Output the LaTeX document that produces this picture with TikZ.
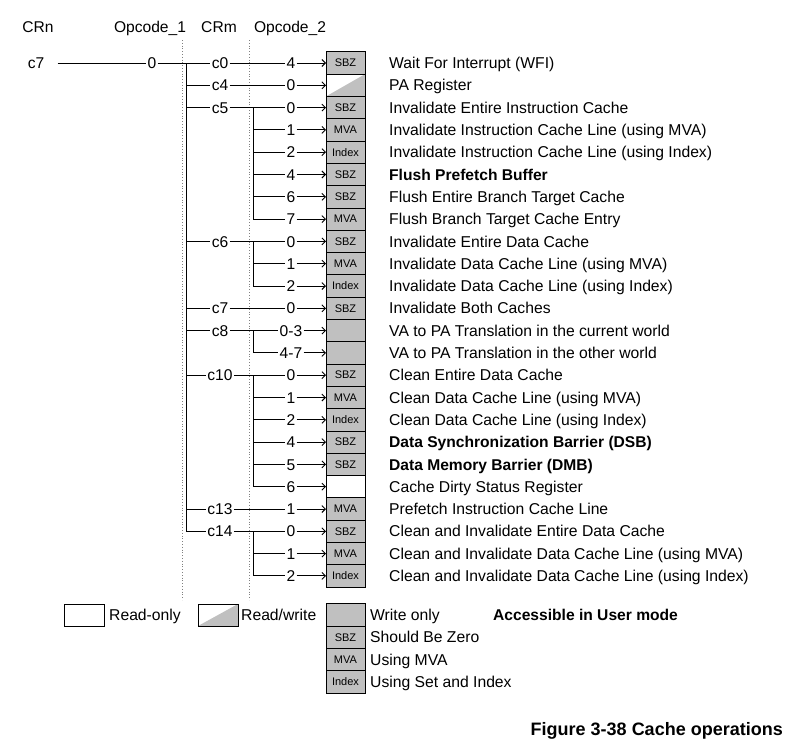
\documentclass[tikz,border=0pt]{standalone}
\usepackage{fontspec}
\setmainfont{Liberation Sans}
\usetikzlibrary{arrows.meta}
\definecolor{boxgray}{RGB}{192,192,192}
\tikzset{
 lbl/.style={font=\fontsize{15.6}{16}\selectfont, inner sep=1.3pt, outer sep=0pt, text height=11.2pt, text depth=0pt},
 desc/.style={font=\fontsize{15.7}{16}\selectfont, anchor=west, inner sep=0pt, text height=11.2pt, text depth=0pt},
 descb/.style={desc, font=\fontsize{15.6}{16}\selectfont\bfseries},
 cell/.style={draw=black, line width=0.8pt, minimum width=39pt, minimum height=22.3pt, inner sep=0pt, outer sep=0pt, font=\fontsize{11}{12}\selectfont},
 wo/.style={cell, fill=boxgray},
 ro/.style={cell, fill=white},
 rw/.style={cell, fill=white, path picture={\fill[boxgray] (path picture bounding box.south west) -- (path picture bounding box.north east) |- cycle;}},
 conn/.style={line width=0.9pt},
 arr/.style={conn, -{Straight Barb[length=3.5pt,width=7pt]}},
 guide/.style={gray, dotted, line width=0.8pt},
}
\begin{document}
\begin{tikzpicture}[x=1pt,y=-1pt]
\useasboundingbox (0,0) rectangle (798,755);
% guides
\draw[guide] (182,40) -- (182,600);
\draw[guide] (249,40) -- (249,600);
% headers
\node[lbl] (hcrn) at (38,27) {CRn};
\node[lbl] (hop1) at (150,27) {Opcode\_1};
\node[lbl] (hcrm) at (219,27) {CRm};
\node[lbl] (hop2) at (290,27) {Opcode\_2};
% CRn / opcode1
\node[lbl] (crn) at (36,63) {c7};
\node[lbl] (op1) at (152,63) {0};
\coordinate (T1) at (186,0);
\coordinate (T2) at (253,0);
% rows
\foreach \i/\op/\typ/\bx/\txt/\isb in {
 0/4/wo/SBZ/Wait For Interrupt (WFI)/0,
 1/0/rw//PA Register/0,
 2/0/wo/SBZ/Invalidate Entire Instruction Cache/0,
 3/1/wo/MVA/Invalidate Instruction Cache Line (using MVA)/0,
 4/2/wo/Index/Invalidate Instruction Cache Line (using Index)/0,
 5/4/wo/SBZ/Flush Prefetch Buffer/1,
 6/6/wo/SBZ/Flush Entire Branch Target Cache/0,
 7/7/wo/MVA/Flush Branch Target Cache Entry/0,
 8/0/wo/SBZ/Invalidate Entire Data Cache/0,
 9/1/wo/MVA/Invalidate Data Cache Line (using MVA)/0,
 10/2/wo/Index/Invalidate Data Cache Line (using Index)/0,
 11/0/wo/SBZ/Invalidate Both Caches/0,
 12/0-3/wo//VA to PA Translation in the current world/0,
 13/4-7/wo//VA to PA Translation in the other world/0,
 14/0/wo/SBZ/Clean Entire Data Cache/0,
 15/1/wo/MVA/Clean Data Cache Line (using MVA)/0,
 16/2/wo/Index/Clean Data Cache Line (using Index)/0,
 17/4/wo/SBZ/Data Synchronization Barrier (DSB)/1,
 18/5/wo/SBZ/Data Memory Barrier (DMB)/1,
 19/6/ro//Cache Dirty Status Register/0,
 20/1/wo/MVA/Prefetch Instruction Cache Line/0,
 21/0/wo/SBZ/Clean and Invalidate Entire Data Cache/0,
 22/1/wo/MVA/Clean and Invalidate Data Cache Line (using MVA)/0,
 23/2/wo/Index/Clean and Invalidate Data Cache Line (using Index)/0}{
  \pgfmathsetmacro{\yy}{63+22.3*\i}
  \node[lbl] (o\i) at (291,\yy) {\op};
  \node[\typ] (b\i) at (345.5,\yy) {\bx};
  \ifnum\isb=1
    \node[descb] (d\i) at (389,\yy) {\txt};
  \else
    \node[desc] (d\i) at (389,\yy) {\txt};
  \fi
  \draw[arr] (o\i) -- (b\i);
}
% CRm labels
\foreach \i/\c in {0/c0,1/c4,2/c5,8/c6,11/c7,12/c8,14/c10,20/c13,21/c14}{
  \pgfmathsetmacro{\yy}{63+22.3*\i}
  \node[lbl] (m\i) at (220,\yy) {\c};
}
% CRn to opcode1 to CRm
\draw[conn] ([xshift=12pt]crn.east) -- (op1);
\draw[conn] (op1) -- (m0);
\draw[conn] (T1 |- m0) |- (m21);
\foreach \i in {1,2,8,11,12,14,20}{\draw[conn] (T1 |- m\i) -- (m\i);}
% single rows
\foreach \i in {0,1,11,20}{\draw[conn] (m\i) -- (o\i);}
% groups
\draw[conn] (m2) -- (o2);
\draw[conn] (T2 |- o2) |- (o7);
\foreach \i in {3,4,5,6}{\draw[conn] (T2 |- o\i) -- (o\i);}
\draw[conn] (m8) -- (o8);
\draw[conn] (T2 |- o8) |- (o10);
\draw[conn] (T2 |- o9) -- (o9);
\draw[conn] (m12) -- (o12);
\draw[conn] (T2 |- o12) |- (o13);
\draw[conn] (m14) -- (o14);
\draw[conn] (T2 |- o14) |- (o19);
\foreach \i in {15,16,17,18}{\draw[conn] (T2 |- o\i) -- (o\i);}
\draw[conn] (m21) -- (o21);
\draw[conn] (T2 |- o21) |- (o23);
\draw[conn] (T2 |- o22) -- (o22);
% legend
\node[ro, minimum width=40pt, minimum height=22pt] (lro) at (84,615) {};
\node[desc] (tro) at (109,615) {Read-only};
\node[rw, minimum width=40pt, minimum height=22pt] (lrw) at (218,615) {};
\node[desc] (trw) at (241,615) {Read/write};
\node[wo] (lwo) at (345.5,615) {};
\node[wo] (lsbz) at (345.5,637.3) {SBZ};
\node[wo] (lmva) at (345.5,659.6) {MVA};
\node[wo] (lidx) at (345.5,681.9) {Index};
\node[desc] (two) at (370,615) {Write only};
\node[desc] (tsbz) at (370,637.3) {Should Be Zero};
\node[desc] (tmva) at (370,659.6) {Using MVA};
\node[desc] (tidx) at (370,681.9) {Using Set and Index};
\node[descb] (tacc) at (493,615) {Accessible in User mode};
\node[descb, anchor=east, font=\fontsize{18}{20}\selectfont\bfseries, text height=13pt] (cap) at (783,729) {Figure 3-38 Cache operations};
\end{tikzpicture}
\end{document}
